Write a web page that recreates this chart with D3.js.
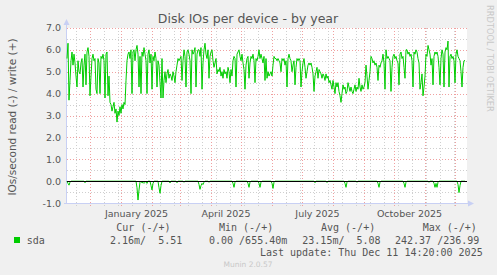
<!DOCTYPE html>
<html>
<head>
<meta charset="utf-8">
<style>
  body { margin: 0; background: #f0f0f0; }
  svg { display: block; }
  text { font-family: "DejaVu Sans", sans-serif; }
  .mono { font-family: "DejaVu Sans Mono", monospace; white-space: pre; }
</style>
</head>
<body>
<script src="https://cdn.jsdelivr.net/npm/d3@7"></script>
<script>
// daily values, first day = 2024-11-08
const startDay = new Date(2024, 10, 8);
const writeVals = [
  5.6, 6.3, 3.7, 4.6, 5.5, 5.9, 5.3, 5.8, 5.4, 4.8, 4.3,
  5.5, 5.0, 4.9, 5.4, 5.6, 4.3, 5.3,
  5.8, 4.4, 5.9, 6.1, 5.7, 3.9, 4.8,
  5.6, 5.8, 5.5, 5.6, 4.2, 4.0, 5.6,
  5.4, 4.0, 5.7, 5.6, 5.8, 5.5, 3.8,
  5.8, 5.9, 3.9, 4.8, 3.6, 3.5, 3.2,
  3.4, 3.6, 3.1, 3.3, 2.7, 3.2, 3.0,
  3.4, 3.1, 3.5, 3.3, 3.6, 3.5, 4.6,
  5.5, 5.8, 5.9, 5.6, 6.0, 4.0, 5.9,
  6.0, 5.5, 6.0, 6.2, 5.8, 4.3, 5.7,
  4.0, 5.9, 5.7, 6.1, 5.8, 5.5, 4.0,
  5.8, 6.0, 5.4, 5.8, 4.2, 5.7, 5.5,
  5.9, 5.6, 4.3, 5.5, 5.3, 4.5, 3.8,
  5.6, 3.8, 4.6, 5.0, 4.5, 4.9, 5.1,
  4.7, 4.9, 4.8, 4.6, 5.0, 4.8, 4.5,
  5.0, 5.3, 5.6, 5.5, 5.6, 5.7, 4.6,
  5.5, 6.0, 5.7, 4.3, 5.9, 6.0, 5.8,
  5.5, 4.0, 6.0, 5.8, 5.9, 6.1, 4.3,
  5.8, 6.0, 6.0, 5.7, 6.1, 4.2, 5.4,
  6.0, 6.3, 5.8, 5.6, 6.0, 4.7, 5.7,
  5.9, 6.0, 5.5, 5.2, 5.4, 5.6, 4.9,
  5.1, 5.0, 5.2, 4.8, 5.0, 4.7, 5.1,
  4.9, 5.0, 4.7, 5.2, 5.0, 4.5, 5.1,
  4.8, 5.5, 5.7, 5.6, 4.3, 5.8, 5.9,
  6.0, 5.7, 5.5, 5.8, 5.4, 5.1, 4.2,
  5.3, 5.6, 5.7, 4.7, 5.4, 5.7, 5.6,
  5.8, 5.5, 4.5, 5.6, 5.5, 5.7, 6.0,
  5.6, 5.8, 5.6, 5.4, 5.7, 4.6, 5.6,
  4.7, 5.0, 4.8, 4.9, 5.0, 4.8, 5.3,
  5.7, 5.6, 5.6, 5.5, 5.6, 5.5, 5.4,
  5.0, 5.6, 5.5, 5.6, 5.3, 5.5, 4.3,
  5.6, 5.8, 5.6, 5.5, 5.0, 5.3, 5.5,
  4.4, 5.2, 5.6, 5.5, 5.6, 5.5, 4.3,
  5.0, 5.4, 5.6, 5.2, 4.7, 5.0, 5.3,
  5.4, 5.3, 5.4, 5.2, 4.9, 4.1, 4.8,
  5.0, 5.2, 4.7, 5.1, 5.0, 4.9, 4.7,
  4.9, 4.8, 4.6, 4.9, 4.7, 4.8, 4.5,
  4.6, 4.4, 4.2, 4.6, 4.3, 4.0, 4.5,
  4.3, 4.5, 4.1, 3.9, 3.6, 4.0, 4.4,
  4.2, 4.3, 4.0, 4.1, 4.5, 4.3, 4.1,
  4.3, 4.1, 4.0, 4.2, 4.4, 4.1, 4.3,
  4.2, 4.7, 4.3, 4.1, 4.4, 4.2, 4.3,
  4.5, 5.3, 4.8, 4.2, 4.6, 5.0, 5.7,
  5.6, 5.4, 5.5, 5.3, 5.4, 5.2, 4.6,
  5.3, 5.2, 5.4, 5.5, 5.8, 5.4, 4.2,
  6.0, 5.6, 5.7, 5.6, 5.5, 4.1, 5.2,
  5.7, 5.8, 5.6, 5.7, 5.5, 5.4, 4.4,
  5.8, 5.9, 5.6, 5.7, 5.2, 4.7, 6.0,
  6.0, 5.8, 5.9, 5.7, 5.8, 5.5, 4.3,
  5.9, 5.8, 6.0, 5.9, 5.6, 5.4, 4.2,
  4.5, 4.9, 3.9, 4.3, 4.8, 5.8, 5.7,
  6.2, 6.0, 5.8, 5.3, 5.6, 4.4, 5.7,
  5.9, 5.8, 5.9, 5.7, 5.2, 4.4, 5.6,
  6.0, 5.8, 4.3, 5.9, 6.1, 6.0, 6.4,
  4.3, 5.7, 5.8, 5.6, 5.7, 5.5, 4.5,
  5.8, 6.0, 5.7, 5.6, 5.5, 5.0, 4.3,
  5.2, 5.5, 5.51
];
// read side: day index and (negative) value, zero on the other days
const readDays = [1, 2, 3, 18, 70, 71, 72, 73, 75, 76, 77, 78, 80, 84, 85, 86, 92, 93, 94,
  103, 110, 117, 132, 133, 134, 135, 136, 137, 142, 166, 167, 168, 181, 182, 183,
  192, 193, 194, 205, 206, 207, 248, 260, 278, 279, 280, 290, 311, 312, 313,
  337, 338, 339, 362, 367, 368, 369, 370, 371, 391, 392, 393];
const readVals = [-0.1, -0.18, -0.05, -0.07, -0.3, -0.86, -0.4, -0.05, -0.08, -0.05, -0.1, -0.05, -0.1,
  -0.2, -0.4, -0.1, -0.3, -0.55, -0.2, -0.08, -0.07, -0.05, -0.15, -0.37, -0.2, -0.1, -0.15, -0.05,
  -0.05, -0.1, -0.28, -0.05, -0.1, -0.28, -0.05, -0.1, -0.28, -0.05, -0.1, -0.33, -0.05,
  -0.07, -0.06, -0.1, -0.28, -0.05, -0.05, -0.1, -0.28, -0.05, -0.1, -0.28, -0.05,
  -0.05, -0.1, -0.28, -0.1, -0.28, -0.05, -0.15, -0.52, -0.2];

const yTicks = [-1, 0, 1, 2, 3, 4, 5, 6, 7];
const monthLabels = ["January 2025", "April 2025", "July 2025", "October 2025"];
const labelMonths = [new Date(2025, 0, 1), new Date(2025, 3, 1), new Date(2025, 6, 1), new Date(2025, 9, 1)];

const legendHead = ["Cur (-/+)", "Min (-/+)", "Avg (-/+)", "Max (-/+)"];
const legendVals = ["2.16m/  5.51", "0.00 /655.40m", "23.15m/  5.08", "242.37 /236.99"];

const W = 497, H = 275;
const svg = d3.select("body").append("svg").attr("width", W).attr("height", H);

const x = d3.scaleTime()
  .domain([startDay, d3.timeDay.offset(startDay, 400)])
  .range([67, 467]);
const y = d3.scaleLinear().domain([-1, 7]).range([203.1, 27.9]);

const dayDate = i => d3.timeDay.offset(startDay, i);
const writeData = writeVals.map((v, i) => ({ date: dayDate(i), v }));
const readData = writeVals.map((_, i) => {
  const k = readDays.indexOf(i);
  return { date: dayDate(i), v: k < 0 ? 0 : readVals[k] };
});

// plot background
svg.append("rect").attr("x", 67).attr("y", 27.9).attr("width", 400).attr("height", 175.2).attr("fill", "#fff");

// grid
const grid = svg.append("g").attr("shape-rendering", "crispEdges");
const minorY = d3.range(-1, 7.01, 0.5).filter(v => v % 1 !== 0);
grid.selectAll(".hmin").data(minorY).join("line")
  .attr("x1", 67).attr("x2", 467).attr("y1", d => Math.round(y(d)) + 0.5).attr("y2", d => Math.round(y(d)) + 0.5)
  .attr("stroke", "#cfcfcf").attr("stroke-dasharray", "1,2");
// minor vertical grid every two weeks, starting on a Sunday
const minorX = d3.range(0, 30).map(i => d3.timeDay.offset(new Date(2024, 10, 17), i * 14)).filter(d => x(d) < 467);
grid.selectAll(".vmin").data(minorX).join("line")
  .attr("x1", d => Math.round(x(d)) + 0.5).attr("x2", d => Math.round(x(d)) + 0.5)
  .attr("y1", 27.9).attr("y2", 206)
  .attr("stroke", "#cfcfcf").attr("stroke-dasharray", "1,2");
grid.selectAll(".hmaj").data(yTicks).join("line")
  .attr("x1", 67).attr("x2", 467).attr("y1", d => Math.round(y(d)) + 0.5).attr("y2", d => Math.round(y(d)) + 0.5)
  .attr("stroke", "#f0a0a0").attr("stroke-dasharray", "1,2");
const months = d3.timeMonth.range(startDay, d3.timeDay.offset(startDay, 400));
grid.selectAll(".vmaj").data(months).join("line")
  .attr("x1", d => Math.round(x(d)) + 0.5).attr("x2", d => Math.round(x(d)) + 0.5)
  .attr("y1", 27.9).attr("y2", 207)
  .attr("stroke", "#f0a0a0").attr("stroke-dasharray", "1,2");

// axes lines + arrows
const axisCol = "#c8d0f4";
svg.append("line").attr("x1", 66.5).attr("x2", 66.5).attr("y1", 24).attr("y2", 204).attr("stroke", axisCol);
svg.append("line").attr("x1", 64).attr("x2", 469).attr("y1", 203.5).attr("y2", 203.5).attr("stroke", axisCol);
svg.append("path").attr("d", "M63.5,25 L66.5,19 L69.5,25 Z").attr("fill", axisCol);
svg.append("path").attr("d", "M468,200.5 L474,203.5 L468,206.5 Z").attr("fill", axisCol);

// series
const line = d3.line().x(d => x(d.date)).y(d => y(d.v));
svg.append("path").datum(readData).attr("d", line).attr("fill", "none").attr("stroke", "#00cc00").attr("stroke-width", 1);
svg.append("path").datum(writeData).attr("d", line).attr("fill", "none").attr("stroke", "#00cc00").attr("stroke-width", 1);

// zero line
svg.append("line").attr("x1", 67).attr("x2", 467).attr("y1", y(0)).attr("y2", y(0))
  .attr("stroke", "#000").attr("stroke-width", 1).attr("shape-rendering", "crispEdges");

// y tick labels
svg.selectAll(".ylab").data(yTicks).join("text")
  .attr("x", 61).attr("y", d => y(d) + 3.5).attr("text-anchor", "end")
  .attr("font-size", 9.5).attr("fill", "#555").text(d => d.toFixed(1));

// x labels centered on month middles
svg.selectAll(".xlab").data(labelMonths).join("text")
  .attr("x", d => (x(d) + x(d3.timeMonth.offset(d, 1))) / 2).attr("y", 216.5)
  .attr("text-anchor", "middle").attr("font-size", 9.5).attr("fill", "#555")
  .text((d, i) => monthLabels[i]);

// title
svg.append("text").attr("x", 248).attr("y", 23).attr("text-anchor", "middle")
  .attr("font-size", 12.5).attr("fill", "#555").text("Disk IOs per device - by year");

// y label
svg.append("text").attr("transform", "translate(16,117) rotate(-90)").attr("text-anchor", "middle")
  .attr("font-size", 10.5).attr("fill", "#555").text("IOs/second read (-) / write (+)");

// rrdtool credit
svg.append("text").attr("transform", "translate(487,5) rotate(90)")
  .attr("font-size", 8.3).attr("fill", "#c8c8c8").text("RRDTOOL / TOBI OETIKER");

// legend
const heads = [116.3, 219, 321, 422.7];
svg.selectAll(".lh").data(legendHead).join("text").attr("class", "mono")
  .attr("x", (d, i) => heads[i]).attr("y", 231).attr("font-size", 10).attr("fill", "#555").text(d => d);
svg.append("rect").attr("x", 14).attr("y", 237).attr("width", 6).attr("height", 6).attr("fill", "#00cc00");
svg.append("text").attr("class", "mono").attr("x", 26.7).attr("y", 243.5).attr("font-size", 10).attr("fill", "#555").text("sda");
const valsX = [110, 209, 302.3, 395];
svg.selectAll(".lv").data(legendVals).join("text").attr("class", "mono")
  .attr("x", (d, i) => valsX[i]).attr("y", 243.5).attr("font-size", 10).attr("fill", "#555").text(d => d);
svg.append("text").attr("class", "mono").attr("x", 482.7).attr("y", 255.5).attr("text-anchor", "end")
  .attr("font-size", 10).attr("fill", "#555").text("Last update: Thu Dec 11 14:20:00 2025");
svg.append("text").attr("x", 248).attr("y", 266.5).attr("text-anchor", "middle")
  .attr("font-size", 7.5).attr("fill", "#c8c8c8").text("Munin 2.0.57");
</script>
</body>
</html>
